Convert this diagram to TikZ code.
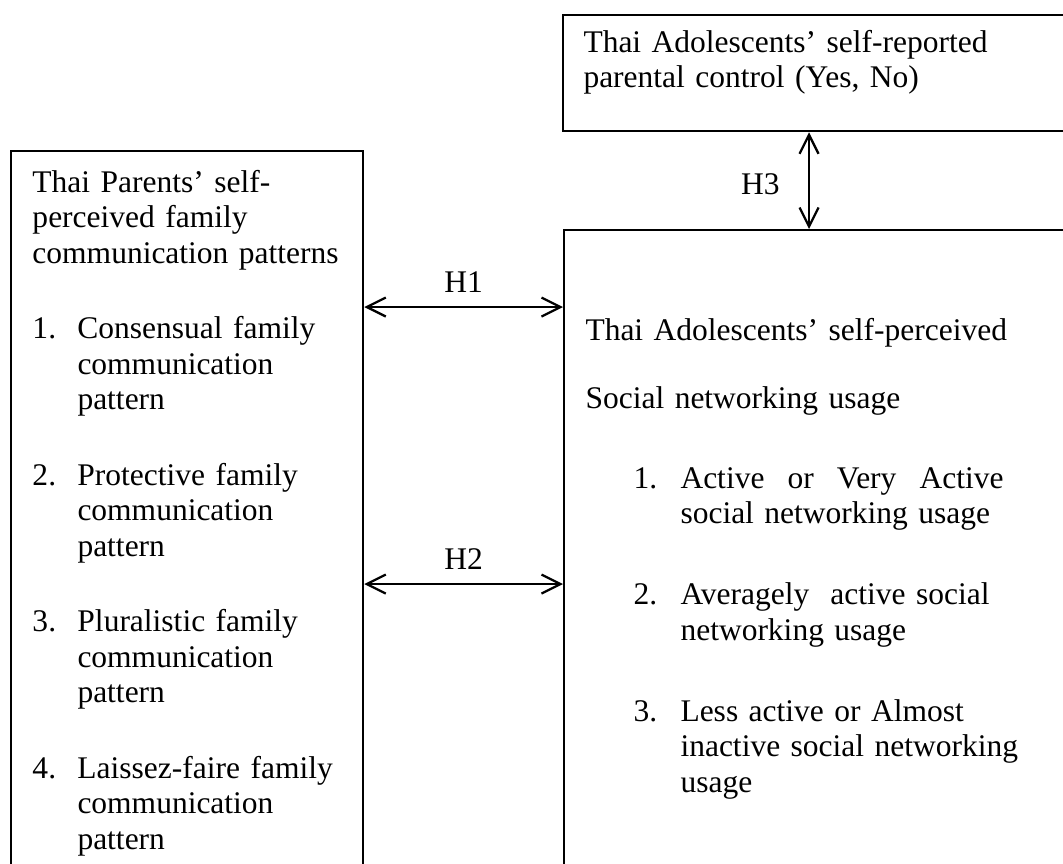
\documentclass[tikz,border=0pt]{standalone}
\usepackage{fontspec}
\setmainfont{Liberation Serif}
\usetikzlibrary{positioning,arrows.meta}

\newcommand{\numlbl}[1]{\makebox[18pt][l]{#1}}
\newcommand{\contind}{\hspace*{18pt}}

\tikzset{
  frame/.style={draw, line width=0.9pt, inner sep=0pt, anchor=north west},
  boxtext/.style={anchor=base west, inner sep=0pt, text width=200pt, align=left},
  hyp/.style={{Straight Barb[length=7.6pt,width=7.6pt]}-{Straight Barb[length=7.6pt,width=7.6pt]}, line width=0.9pt},
}

\begin{document}
\begin{tikzpicture}[x=0.4pt, y=-0.4pt, font=\fontsize{12.6}{14.2}\selectfont]
\useasboundingbox (0,0) rectangle (1063,863);
\clip (0,0) rectangle (1063,863);

% frames (cut off by the page edge)
\node[frame, minimum width=240pt, minimum height=46.4pt] (control) at (562,14) {};
\node[frame, minimum width=140.8pt, minimum height=320pt] (parents) at (10,150) {};
\node[frame, minimum width=240pt, minimum height=300pt] (usage) at (563,229) {};

% texts
\node[boxtext] (controltxt) at (583,52) {Thai Adolescents' self-reported\\
  parental control (Yes, No)};

\node[boxtext] (parentstxt) at (32,192) {Thai Parents' self-\\
  perceived family\\
  communication patterns\\[16pt]
  \numlbl{1.}Consensual family\\\contind communication\\\contind pattern\\[16pt]
  \numlbl{2.}Protective family\\\contind communication\\\contind pattern\\[16pt]
  \numlbl{3.}Pluralistic family\\\contind communication\\\contind pattern\\[16pt]
  \numlbl{4.}Laissez-faire family\\\contind communication\\\contind pattern};

\node[boxtext] (usagetxt) at (585,340) {Thai Adolescents' self-perceived\\[13pt]
  Social networking usage\\[17.8pt]
  \hspace*{19.2pt}\makebox[18.8pt][l]{1.}\makebox[129.2pt][s]{Active\hfill or\hfill Very\hfill Active}\\
  \hspace*{38pt}social networking usage\\[18.2pt]
  \hspace*{19.2pt}\makebox[18.8pt][l]{2.}Averagely~ active social\\
  \hspace*{38pt}networking usage\\[18.2pt]
  \hspace*{19.2pt}\makebox[18.8pt][l]{3.}Less active or Almost\\
  \hspace*{38pt}inactive social networking\\
  \hspace*{38pt}usage};

% hypotheses
\draw[hyp] (parents.east |- 0,307) -- node[above=2pt] (h1) {H1} (usage.west |- 0,307);
\draw[hyp] (parents.east |- 0,584) -- node[above=2pt] (h2) {H2} (usage.west |- 0,584);
\draw[hyp] (control.south -| 809,0) -- node[left=8pt, yshift=-1.6pt] (h3) {H3} (usage.north -| 809,0);
\end{tikzpicture}
\end{document}
